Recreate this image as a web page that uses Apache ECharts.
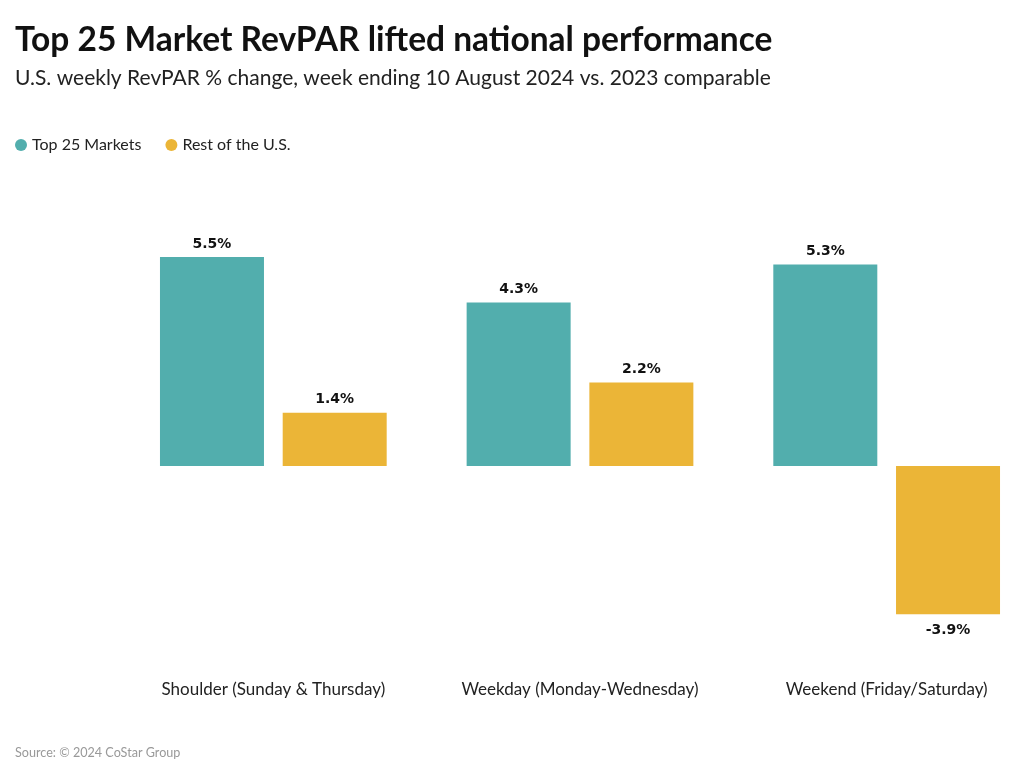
<!DOCTYPE html>
<html><head><meta charset="utf-8">
<script src="https://cdn.jsdelivr.net/npm/echarts@6/dist/echarts.min.js"></script>
<style>html,body{margin:0;padding:0;background:#fff}#c{width:1024px;height:772px}</style>
</head><body><div id="c"></div>
<script>
const categories = ['Shoulder (Sunday & Thursday)', 'Weekday (Monday-Wednesday)', 'Weekend (Friday/Saturday)'];
const top25 = [5.5, 4.3, 5.3];
const restUS = [1.4, 2.2, -3.9];
const seriesNames = ['Top 25 Markets', 'Rest of the U.S.'];
const F = 'Lato, "Noto Sans", sans-serif';
const chart = echarts.init(document.getElementById('c'));
const lbl = {show: true, formatter: p => p.value.toFixed(1) + '%', fontFamily: 'DejaVu Sans', fontWeight: 'bold', fontSize: 14, color: '#111', distance: 6};
chart.setOption({
  animation: false,
  title: [
    {text: 'Top 25 Market RevPAR lifted national performance', left: 15, top: 23, padding: 0, textStyle: {fontFamily: F, fontWeight: 'bold', fontSize: 33.5, color: '#111'}},
    {text: 'U.S. weekly RevPAR % change, week ending 10 August 2024 vs. 2023 comparable', left: 15, top: 68, padding: 0, textStyle: {fontFamily: F, fontWeight: 'normal', fontSize: 21, color: '#222'}},
    {text: 'Source: © 2024 CoStar Group', left: 15, top: 746, padding: 0, textStyle: {fontFamily: F, fontWeight: 'normal', fontSize: 12.6, color: '#999'}}
  ],
  legend: {left: 10, top: 132, icon: 'circle', itemWidth: 12, itemHeight: 12, itemGap: 24, textStyle: {fontFamily: F, fontSize: 16, color: '#222'}, data: seriesNames},
  grid: {left: 120, width: 920, top: 238, bottom: 97, containLabel: false, outerBoundsMode: 'none'},
  xAxis: {type: 'category', data: categories, axisLine: {show: false, onZero: false}, axisTick: {show: false},
    axisLabel: {fontFamily: F, fontSize: 17, color: '#222', margin: 6, interval: 0}},
  yAxis: {type: 'value', min: -5.5, max: 6, show: false, splitLine: {show: false}},
  series: [
    {name: seriesNames[0], type: 'bar', data: top25, barWidth: 104, barGap: '18%', itemStyle: {color: '#52AEAD'}, label: Object.assign({position: 'top'}, lbl)},
    {name: seriesNames[1], type: 'bar', barWidth: 104, itemStyle: {color: '#EBB537'},
      label: Object.assign({position: 'top'}, lbl),
      data: restUS.map(v => v < 0 ? {value: v, label: {position: 'bottom', distance: 9}} : v)}
  ]
});
</script></body></html>
